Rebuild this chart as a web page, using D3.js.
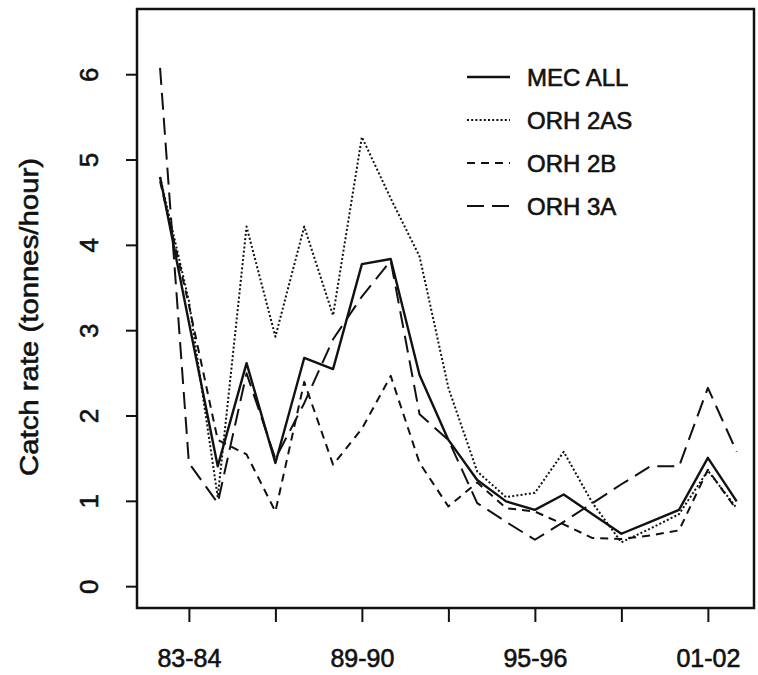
<!DOCTYPE html>
<html lang="en">
<head>
  <meta charset="UTF-8">
  <title>Catch rate</title>
  <style>
    body { margin: 0; background: #fff; }
    text { font-family: 'Liberation Sans', Arial, Helvetica, sans-serif; fill: #111; stroke: #111; stroke-width: 0.6px; }
  </style>
</head>
<body>
  <svg id="svg" width="758" height="675"></svg>
  <script src="https://d3js.org/d3.v7.min.js"></script>
  <script>
    // seasons 82-83 ... 02-03, stored by starting year
    const seasons = d3.range(1982, 2003)

    const mecAll = [4.8, 3.1, 1.41, 2.62, 1.45, 2.68, 2.55, 3.78, 3.84, 2.48, 1.72, 1.25, 1.0, 0.9, 1.08, 0.85, 0.62, 0.76, 0.9, 1.51, 1.0]
    const orh2AS = [4.8, 3.35, 1.05, 4.22, 2.93, 4.22, 3.18, 5.27, 4.55, 3.87, 2.33, 1.35, 1.05, 1.1, 1.58, 0.98, 0.52, 0.68, 0.85, 1.36, 0.92]
    const orh2B = [4.75, 3.3, 1.72, 1.55, 0.88, 2.4, 1.43, 1.85, 2.47, 1.45, 0.94, 1.22, 0.92, 0.88, 0.73, 0.57, 0.56, 0.6, 0.66, 1.37, 0.9]
    const orh3A = [6.08, 1.45, 0.98, 2.5, 1.5, 2.15, 2.9, 3.4, 3.82, 2.02, 1.72, 0.98, 0.76, 0.55, 0.76, 0.98, 1.2, 1.41, 1.41, 2.33, 1.58]

    const seriesNames = ['MEC ALL', 'ORH 2AS', 'ORH 2B', 'ORH 3A']
    const seriesValues = [mecAll, orh2AS, orh2B, orh3A]
    const dashes = [null, '2,2.2', '8,6', '17,8']

    const xTicks = [1983, 1986, 1989, 1992, 1995, 1998, 2001]
    const xLabelled = [1983, 1989, 1995, 2001]
    const yTicks = [0, 1, 2, 3, 4, 5, 6]

    const box = { left: 137, right: 754, top: 9, bottom: 608 }

    const xScale = d3.scaleLinear()
      .domain([1981.2, 2002.6])
      .range([box.left, box.right])

    const yScale = d3.scaleLinear()
      .domain([-0.25, 6.77])
      .range([box.bottom, box.top])

    const svg = d3.select('#svg')

    const seasonLabel = y => {
      const a = String(y % 100).padStart(2, '0')
      const b = String((y + 1) % 100).padStart(2, '0')
      return `${a}-${b}`
    }

    // x axis
    const xAxis = svg.append('g')
      .attr('transform', `translate(0,${box.bottom})`)
      .call(d3.axisBottom(xScale)
        .tickValues(xTicks)
        .tickSize(14)
        .tickPadding(27)
        .tickFormat(d => xLabelled.includes(d) ? seasonLabel(d) : ''))
    xAxis.select('.domain').remove()
    xAxis.selectAll('line').attr('stroke', '#111').attr('stroke-width', 2)
    xAxis.selectAll('text')
      .style('font-size', '25px')
      .style('font-family', "'Liberation Sans', Arial, sans-serif")
      .attr('fill', '#111')

    // y axis, labels rotated like R's default
    const yAxis = svg.append('g')
      .attr('transform', `translate(${box.left},0)`)
      .call(d3.axisLeft(yScale)
        .tickValues(yTicks)
        .tickSize(11)
        .tickFormat(d3.format('d')))
    yAxis.select('.domain').remove()
    yAxis.selectAll('line').attr('stroke', '#111').attr('stroke-width', 2)
    yAxis.selectAll('.tick').attr('transform', null)
    yAxis.selectAll('.tick line')
      .attr('y1', d => yScale(d))
      .attr('y2', d => yScale(d))
    yAxis.selectAll('text')
      .attr('x', null)
      .attr('dy', null)
      .attr('transform', d => `translate(-48,${yScale(d)}) rotate(-90)`)
      .attr('y', 0)
      .attr('text-anchor', 'middle')
      .attr('dominant-baseline', 'central')
      .style('font-size', '26px')
      .style('font-family', "'Liberation Sans', Arial, sans-serif")
      .attr('fill', '#111')

    svg.append('text')
      .attr('transform', `translate(29,317) rotate(-90)`)
      .attr('text-anchor', 'middle')
      .attr('dominant-baseline', 'central')
      .attr('textLength', 318)
      .attr('lengthAdjust', 'spacingAndGlyphs')
      .style('font-size', '26px')
      .text('Catch rate (tonnes/hour)')

    // lines
    const line = d3.line()
      .x((d, i) => xScale(seasons[i]))
      .y(d => yScale(d))

    svg.selectAll('path.series')
      .data(seriesValues)
      .enter()
      .append('path')
      .attr('class', 'series')
      .attr('d', d => line(d))
      .attr('fill', 'none')
      .attr('stroke', '#111')
      .attr('stroke-width', (d, i) => i === 0 ? 2.4 : 2)
      .attr('stroke-dasharray', (d, i) => dashes[i])
      .attr('stroke-linejoin', 'round')

    // frame
    svg.append('rect')
      .attr('x', box.left)
      .attr('y', box.top)
      .attr('width', box.right - box.left)
      .attr('height', box.bottom - box.top)
      .attr('fill', 'none')
      .attr('stroke', '#111')
      .attr('stroke-width', 2.5)

    // legend
    const legend = svg.append('g')
    const rows = legend.selectAll('g')
      .data(seriesNames)
      .enter()
      .append('g')
      .attr('transform', (d, i) => `translate(467,${77 + i * 43})`)
    rows.append('line')
      .attr('x1', 0)
      .attr('x2', 43)
      .attr('stroke', '#111')
      .attr('stroke-width', (d, i) => i === 0 ? 2.4 : 2)
      .attr('stroke-dasharray', (d, i) => dashes[i])
    rows.append('text')
      .attr('x', 60)
      .attr('dominant-baseline', 'central')
      .style('font-size', '24px')
      .text(d => d)
  </script>
</body>
</html>
